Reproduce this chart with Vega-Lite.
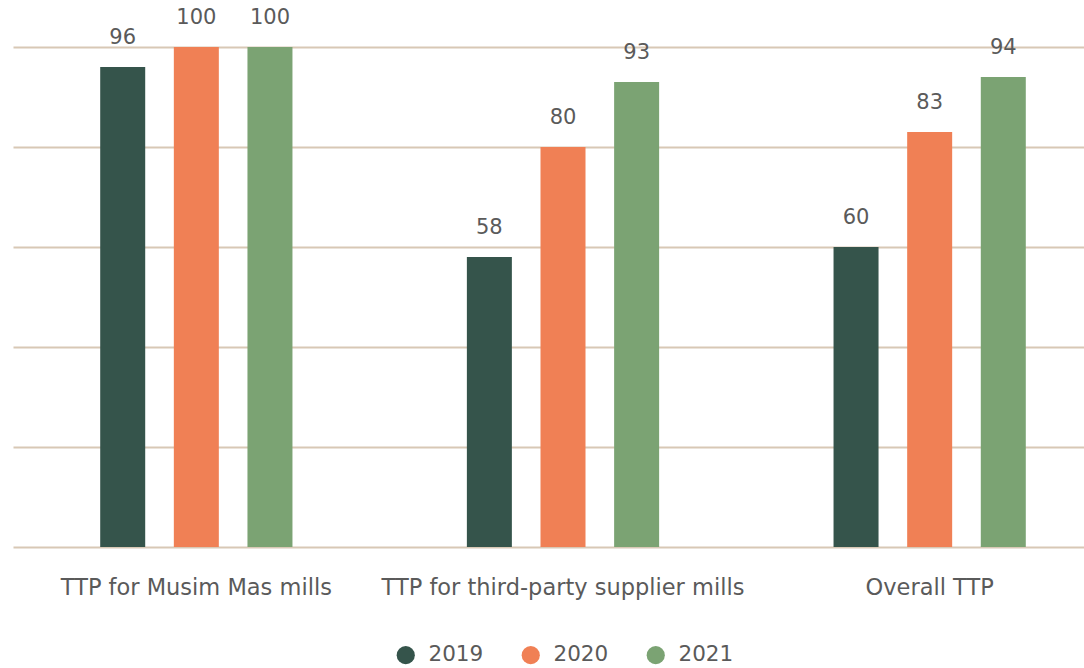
{
  "$schema": "https://vega.github.io/schema/vega-lite/v6.json",
  "width": 1092,
  "height": 500,
  "autosize": "none",
  "padding": {"left": 17, "top": 47, "right": 0, "bottom": 121},
  "background": "white",
  "config": {
    "view": {"stroke": null},
    "font": "DejaVu Sans"
  },
  "data": {
    "values": [
      {"category": "TTP for Musim Mas mills", "year": "2019", "value": 96},
      {"category": "TTP for Musim Mas mills", "year": "2020", "value": 100},
      {"category": "TTP for Musim Mas mills", "year": "2021", "value": 100},
      {"category": "TTP for third-party supplier mills", "year": "2019", "value": 58},
      {"category": "TTP for third-party supplier mills", "year": "2020", "value": 80},
      {"category": "TTP for third-party supplier mills", "year": "2021", "value": 93},
      {"category": "Overall TTP", "year": "2019", "value": 60},
      {"category": "Overall TTP", "year": "2020", "value": 83},
      {"category": "Overall TTP", "year": "2021", "value": 94}
    ]
  },
  "encoding": {
    "x": {
      "field": "category",
      "type": "nominal",
      "sort": null,
      "title": null,
      "scale": {"paddingInner": 0, "paddingOuter": 0, "range": [-4, 1096]},
      "axis": {
        "labelAngle": 0,
        "domain": false,
        "ticks": false,
        "labelPadding": 29,
        "labelFontSize": 22.5,
        "labelColor": "#5a5a5a",
        "labelFont": "DejaVu Sans",
        "labelLimit": 400
      }
    },
    "xOffset": {
      "field": "year",
      "type": "nominal",
      "scale": {"paddingInner": 0, "paddingOuter": 0.99}
    },
    "y": {
      "field": "value",
      "type": "quantitative",
      "scale": {"domain": [0, 100], "nice": false},
      "title": null,
      "axis": {
        "values": [0, 20, 40, 60, 80, 100],
        "labels": false,
        "ticks": false,
        "domain": false,
        "grid": true,
        "gridColor": "#d8c8b5",
        "gridWidth": 2,
        "gridOpacity": 1
      }
    }
  },
  "layer": [
    {
      "mark": {"type": "bar", "width": 45},
      "encoding": {
        "color": {
          "field": "year",
          "type": "nominal",
          "title": null,
          "scale": {"domain": ["2019", "2020", "2021"], "range": ["#35544b", "#f08055", "#7ba373"]},
          "legend": {
            "orient": "none",
            "legendX": 378,
            "legendY": 597,
            "direction": "horizontal",
            "symbolType": "circle",
            "symbolSize": 330,
            "symbolStrokeWidth": 0,
            "labelFontSize": 21.5,
            "labelColor": "#5a5a5a",
            "labelFont": "DejaVu Sans",
            "columnPadding": 36,
            "labelOffset": 12
          }
        }
      }
    },
    {
      "mark": {"type": "text", "baseline": "alphabetic", "dy": -23, "fontSize": 21, "color": "#5a5a5a", "font": "DejaVu Sans"},
      "encoding": {
        "text": {"field": "value", "type": "quantitative"}
      }
    }
  ]
}
